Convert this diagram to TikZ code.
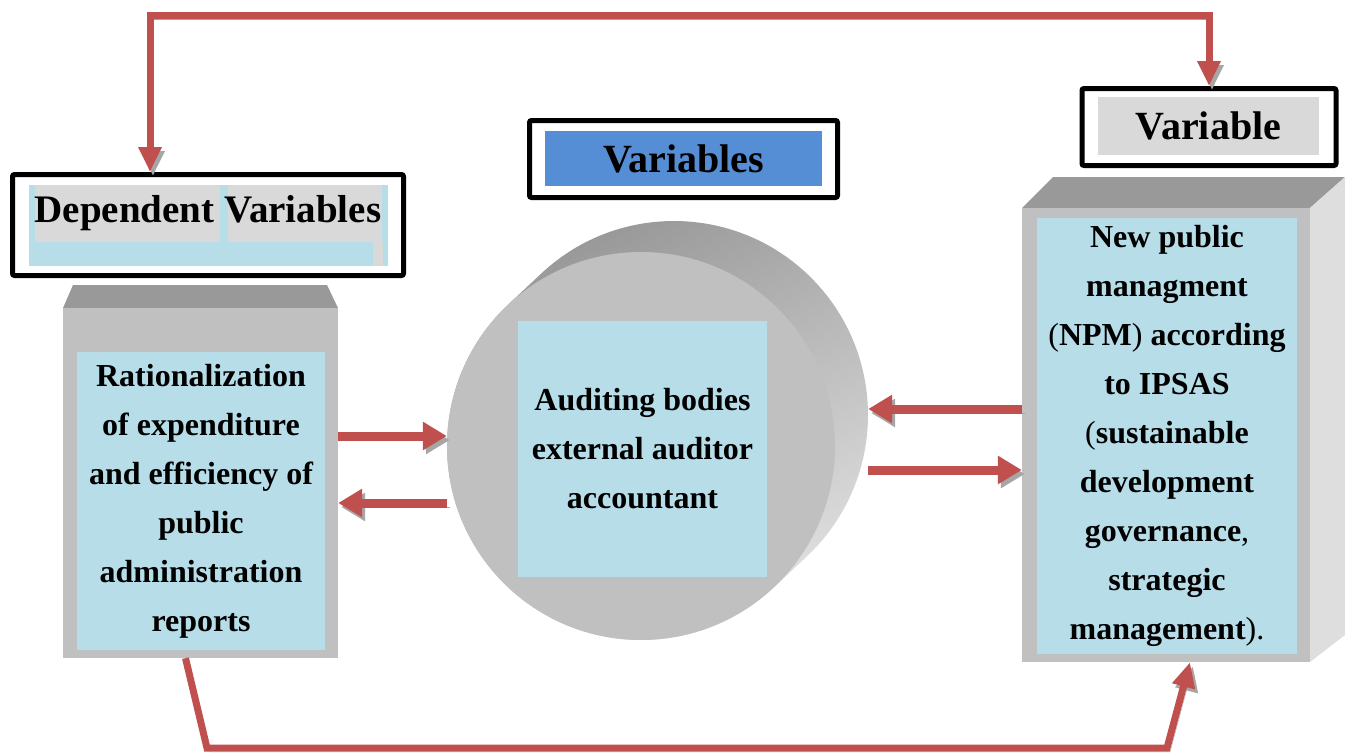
\documentclass[tikz,border=0pt]{standalone}
\usepackage{fontspec}
\setmainfont{Liberation Serif}
\usepackage{xcolor}
\usetikzlibrary{arrows.meta,positioning,calc}

\definecolor{arrowred}{HTML}{C0504D}
\definecolor{shadowgray}{HTML}{A6A6A6}
\definecolor{frontgray}{HTML}{C0C0C0}
\definecolor{topgray}{HTML}{999999}
\definecolor{sidegray}{HTML}{DEDEDE}
\definecolor{cellblue}{HTML}{B7DDE8}
\definecolor{titlegray}{HTML}{D9D9D9}
\definecolor{titleblue}{HTML}{558ED5}

\begin{document}
\begin{tikzpicture}[
    x=1pt, y=1pt,
    titlebox/.style={draw=black, line width=5pt, rounded corners=2pt, fill=white, inner sep=0pt},
    titletext/.style={font=\fontsize{40}{42}\selectfont\bfseries, inner sep=0pt},
    face/.style={fill=frontgray, inner sep=0pt},
    cell/.style={fill=cellblue, inner sep=0pt, align=center,
                 font=\fontsize{32}{49}\selectfont\bfseries},
    link/.style={draw=arrowred, line width=9pt, -{Triangle[length=24pt,width=27pt]},
                 preaction={draw=shadowgray, transform canvas={shift={(3pt,-4pt)}}}},
    backlink/.style={draw=arrowred, line width=7pt,
                 preaction={draw=shadowgray, transform canvas={shift={(3pt,-4pt)}}}},
]
    \useasboundingbox (0,0) rectangle (1345,-755);

    % Dependent variables title
    \node[titlebox, minimum width=391pt, minimum height=101pt] (deptitle) at (208,-225) {};
    \fill[cellblue] (29,-185) rectangle (388,-266);
    \fill[titlegray] (35,-185) rectangle (220,-242);
    \fill[titlegray] (228,-185) rectangle (382,-242);
    \fill[titlegray] (373,-242) rectangle (383,-266);
    \node[titletext, font=\fontsize{39}{41}\selectfont\bfseries] (deptext) at (208,-213)
        {Dependent Variables};

    % Left block
    \fill[topgray] (63,-308) -- (338,-308) -- (327,-285) -- (73,-285) -- cycle;
    \node[face, minimum width=275pt, minimum height=350pt] (ratbox) at (200.5,-483) {};
    \node[cell, minimum width=248pt, minimum height=298pt] (rational) at (201,-501)
        {Rationalization\\of expenditure\\and efficiency of\\public\\administration\\reports};

    % Middle title
    \node[titlebox, minimum width=308pt, minimum height=77pt] (midframe) at (683.5,-159) {};
    \node[titletext, fill=titleblue, minimum width=277pt, minimum height=55pt] (midtitle)
        at (683.5,-158.5) {Variables};

    % Cylinder
    \coordinate (cfront) at (641,-446);
    \coordinate (cback) at (674,-415);
    \shade[top color=black!42, bottom color=black!10, shading angle=25]
        ($(cfront)+(133.2:194)$) -- ($(cback)+(133.2:194)$)
        arc[start angle=133.2, end angle=-46.8, radius=194]
        -- ($(cfront)+(-46.8:194)$)
        arc[start angle=-46.8, end angle=-226.8, radius=194] -- cycle;
    \node[circle, inner sep=0pt, minimum size=388pt] (auditback) at (cback) {};
    \node[circle, fill=frontgray, inner sep=0pt, minimum size=388pt] (audit) at (cfront) {};
    \node[cell, minimum width=249pt, minimum height=256pt] (auditing) at (642.5,-449)
        {Auditing bodies\\external auditor\\accountant};

    % Right title
    \node[titlebox, minimum width=254pt, minimum height=77pt] (indtitle) at (1209,-127) {};
    \node[titletext, fill=titlegray, minimum width=221pt, minimum height=58pt] (indtext)
        at (1208.5,-126) {Variable};

    % Right block
    \fill[topgray] (1022,-208) -- (1310,-208) -- (1345,-177) -- (1053,-177) -- cycle;
    \fill[sidegray] (1310,-208) -- (1345,-177) -- (1345,-635) -- (1310,-662) -- cycle;
    \node[face, minimum width=288pt, minimum height=454pt] (npmbox) at (1166,-435) {};
    \node[cell, minimum width=260pt, minimum height=436pt] (npm) at (1167,-436)
        {New public\\managment\\\textmd{(}NPM\textmd{)} according\\to IPSAS\\
         \textmd{(}sustainable\\development\\governance\textmd{,}\\strategic\\
         management\textmd{).}};

    % Arrows between blocks
    \draw[link] ([yshift=47pt]ratbox.east) -- ([yshift=10pt]audit.west);
    \draw[link] ([yshift=-57pt]audit.west) -- ([yshift=-20pt]ratbox.east);
    \draw[link] ([yshift=26pt]npmbox.west) -- ([yshift=6pt]auditback.east);
    \draw[link] ([yshift=-55pt]auditback.east) -- ([yshift=-35pt]npmbox.west);

    % Outer loop
    \coordinate (topR) at (1209,-15);
    \coordinate (botL) at (207,-748);
    \coordinate (botR) at (1167,-748);
    \draw[backlink, {Triangle[length=25pt,width=22pt]}-{Triangle[length=25pt,width=22pt]}]
        ([xshift=-58pt]deptitle.north) |- (topR) -- (indtitle.north);
    \draw[backlink, -{Triangle[length=25pt,width=22pt]}]
        ([xshift=-15pt]ratbox.south) -- (botL) -- (botR) -- ([xshift=24pt]npmbox.south);
\end{tikzpicture}
\end{document}
